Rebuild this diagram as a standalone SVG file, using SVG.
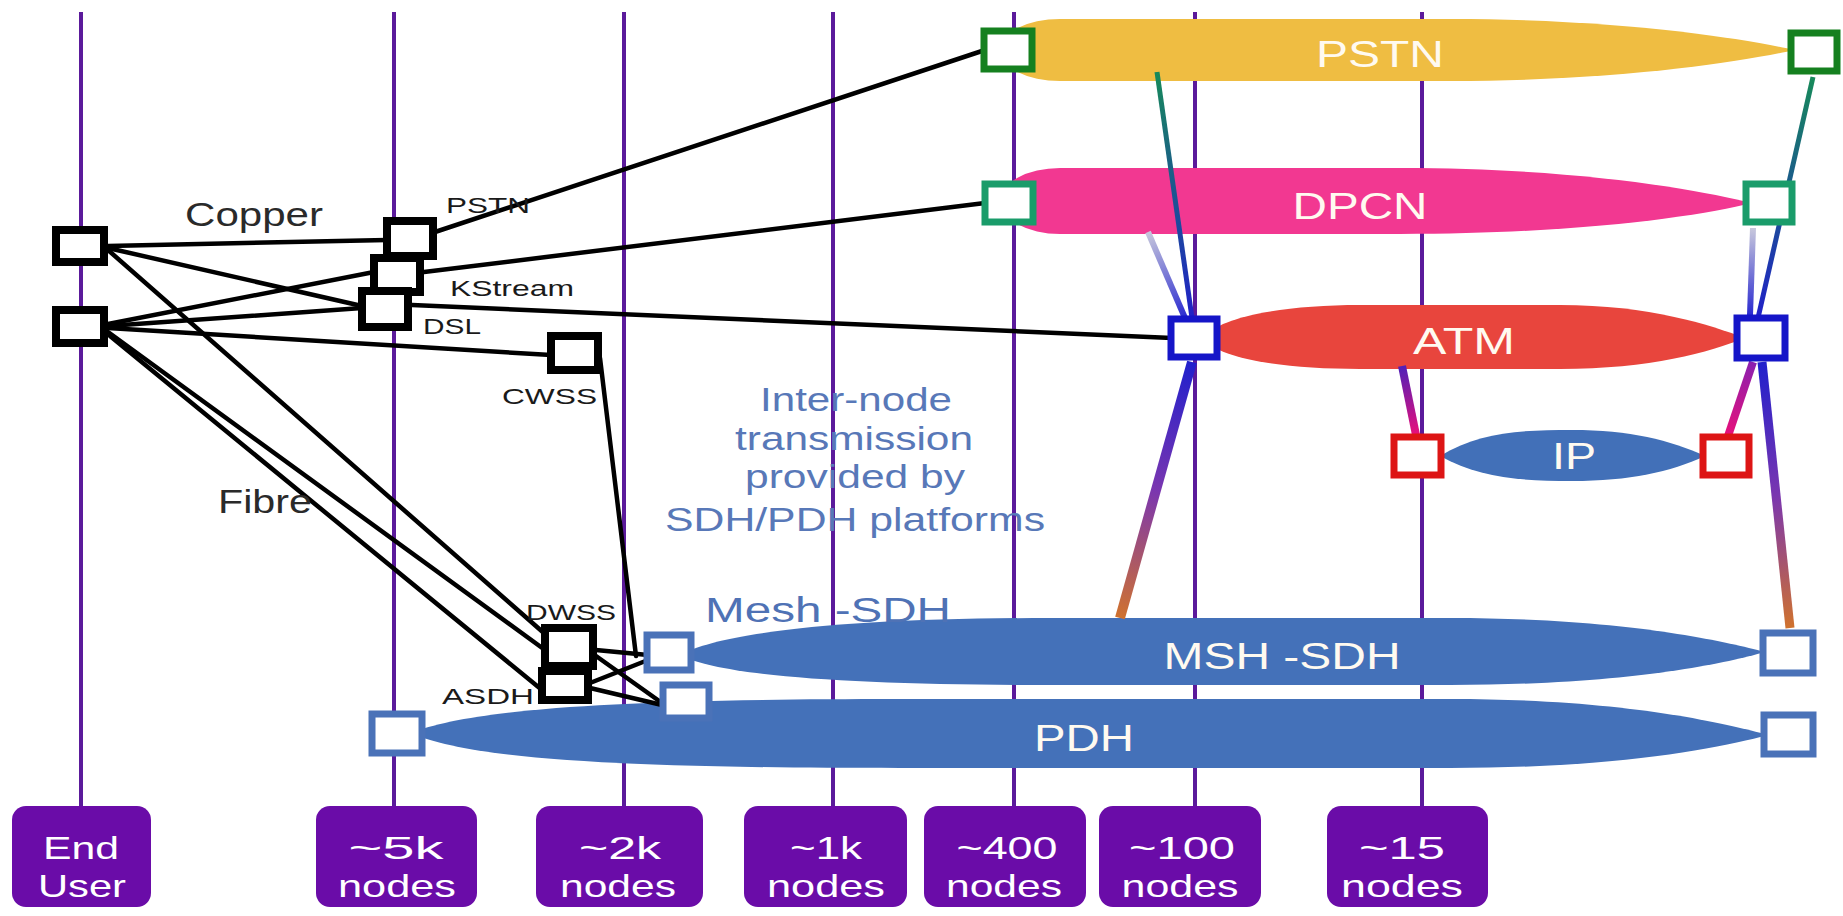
<svg xmlns="http://www.w3.org/2000/svg" width="1843" height="916" viewBox="0 0 1843 916">
<style>
.vl{stroke:#5b1a9b;stroke-width:4;fill:none}
.lab{fill:#6a0ca8}
.labt{font-family:"Liberation Sans",Arial,sans-serif;font-size:32px;fill:#ffffff;text-anchor:middle}
.bk{fill:#ffffff;stroke:#000;stroke-width:8}
.cn{stroke:#000;stroke-width:4.5;fill:none;stroke-linecap:round}
.sm{font-family:"Liberation Sans",Arial,sans-serif;font-size:22px;fill:#1a1a1a}
.big{font-family:"Liberation Sans",Arial,sans-serif;font-size:33px;fill:#2a2a2a}
.blt{font-family:"Liberation Sans",Arial,sans-serif;font-size:33px;fill:#5878b8;text-anchor:middle}
.bt{font-family:"Liberation Sans",Arial,sans-serif;font-size:36px;fill:#fffaf0;text-anchor:middle}
.bx{fill:#ffffff;stroke-width:7}
</style>
<defs>
<linearGradient id="gL1" gradientUnits="userSpaceOnUse" x1="1157" y1="72" x2="1192" y2="318"><stop offset="0" stop-color="#178a5a"/><stop offset="1" stop-color="#2020c8"/></linearGradient>
<linearGradient id="gL2" gradientUnits="userSpaceOnUse" x1="1148" y1="232" x2="1185" y2="318"><stop offset="0" stop-color="#c8c8dc"/><stop offset="1" stop-color="#2a2ad0"/></linearGradient>
<linearGradient id="gL3" gradientUnits="userSpaceOnUse" x1="1192" y1="362" x2="1120" y2="618"><stop offset="0" stop-color="#2020cc"/><stop offset="0.5" stop-color="#7a36b0"/><stop offset="1" stop-color="#d0722e"/></linearGradient>
<linearGradient id="gL4" gradientUnits="userSpaceOnUse" x1="1402" y1="366" x2="1416" y2="435"><stop offset="0" stop-color="#5020b8"/><stop offset="1" stop-color="#e8107a"/></linearGradient>
<linearGradient id="gR1" gradientUnits="userSpaceOnUse" x1="1813" y1="77" x2="1758" y2="318"><stop offset="0" stop-color="#178a5a"/><stop offset="1" stop-color="#2020c8"/></linearGradient>
<linearGradient id="gR2" gradientUnits="userSpaceOnUse" x1="1753" y1="228" x2="1750" y2="315"><stop offset="0" stop-color="#c8c8dc"/><stop offset="1" stop-color="#2a2ad0"/></linearGradient>
<linearGradient id="gR3" gradientUnits="userSpaceOnUse" x1="1753" y1="362" x2="1728" y2="436"><stop offset="0" stop-color="#8a20b0"/><stop offset="1" stop-color="#e8107a"/></linearGradient>
<linearGradient id="gR4" gradientUnits="userSpaceOnUse" x1="1762" y1="362" x2="1790" y2="628"><stop offset="0" stop-color="#2020cc"/><stop offset="0.5" stop-color="#7a36b0"/><stop offset="1" stop-color="#d0722e"/></linearGradient>
</defs>
<rect width="1843" height="916" fill="#ffffff"/>

<g id="levels">
<line class="vl" x1="81" y1="12" x2="81" y2="808"/>
<line class="vl" x1="394" y1="12" x2="394" y2="808"/>
<line class="vl" x1="624" y1="12" x2="624" y2="808"/>
<line class="vl" x1="833" y1="12" x2="833" y2="808"/>
<line class="vl" x1="1014" y1="12" x2="1014" y2="808"/>
<line class="vl" x1="1195" y1="12" x2="1195" y2="808"/>
<line class="vl" x1="1422" y1="12" x2="1422" y2="808"/>
</g>

<g id="level-labels">
<g id="lbl-enduser"><rect class="lab" x="12" y="806" width="139" height="101" rx="14"/><text class="labt" x="81" y="859" textLength="76" lengthAdjust="spacingAndGlyphs">End</text><text class="labt" x="82" y="897" textLength="88" lengthAdjust="spacingAndGlyphs">User</text></g>
<g id="lbl-5k"><rect class="lab" x="316" y="806" width="161" height="101" rx="14"/><text class="labt" x="396" y="859" textLength="95" lengthAdjust="spacingAndGlyphs">~5k</text><text class="labt" x="397" y="897" textLength="118" lengthAdjust="spacingAndGlyphs">nodes</text></g>
<g id="lbl-2k"><rect class="lab" x="536" y="806" width="167" height="101" rx="14"/><text class="labt" x="620" y="859" textLength="82" lengthAdjust="spacingAndGlyphs">~2k</text><text class="labt" x="618" y="897" textLength="116" lengthAdjust="spacingAndGlyphs">nodes</text></g>
<g id="lbl-1k"><rect class="lab" x="744" y="806" width="163" height="101" rx="14"/><text class="labt" x="826" y="859" textLength="72" lengthAdjust="spacingAndGlyphs">~1k</text><text class="labt" x="826" y="897" textLength="118" lengthAdjust="spacingAndGlyphs">nodes</text></g>
<g id="lbl-400"><rect class="lab" x="924" y="806" width="162" height="101" rx="14"/><text class="labt" x="1007" y="859" textLength="101" lengthAdjust="spacingAndGlyphs">~400</text><text class="labt" x="1004" y="897" textLength="116" lengthAdjust="spacingAndGlyphs">nodes</text></g>
<g id="lbl-100"><rect class="lab" x="1099" y="806" width="162" height="101" rx="14"/><text class="labt" x="1182" y="859" textLength="106" lengthAdjust="spacingAndGlyphs">~100</text><text class="labt" x="1180" y="897" textLength="117" lengthAdjust="spacingAndGlyphs">nodes</text></g>
<g id="lbl-15"><rect class="lab" x="1327" y="806" width="161" height="101" rx="14"/><text class="labt" x="1402" y="859" textLength="86" lengthAdjust="spacingAndGlyphs">~15</text><text class="labt" x="1402" y="897" textLength="122" lengthAdjust="spacingAndGlyphs">nodes</text></g>
</g>

<g id="bands">
<g id="band-pstn"><path d="M1000,50 A60 31 0 0 1 1060,19 L1450,19 C1620,19 1740,38 1795,50 C1740,62 1620,81 1450,81 L1060,81 A60 31 0 0 1 1000,50 Z" fill="#efbd42"/><text class="bt" x="1380" y="67" textLength="128" lengthAdjust="spacingAndGlyphs">PSTN</text></g>
<g id="band-dpcn"><path d="M1000,201 A60 33 0 0 1 1060,168 L1400,168 C1580,168 1700,190 1752,203 C1700,216 1580,234 1400,234 L1060,234 A60 33 0 0 1 1000,201 Z" fill="#f23891"/><text class="bt" x="1360" y="219" textLength="135" lengthAdjust="spacingAndGlyphs">DPCN</text></g>
<g id="band-atm"><path d="M1205,338 C1215,318 1280,305 1360,305 L1560,305 C1650,305 1710,325 1745,338 C1710,352 1650,369 1560,369 L1360,369 C1280,369 1215,358 1205,338 Z" fill="#e8453d"/><text class="bt" x="1464" y="354" textLength="102" lengthAdjust="spacingAndGlyphs">ATM</text></g>
<g id="band-ip"><path d="M1440,456 C1480,432 1520,430 1572,430 C1630,430 1670,440 1705,456 C1670,472 1630,481 1572,481 C1520,481 1480,478 1440,456 Z" fill="#4270b8"/><text class="bt" x="1574" y="469" textLength="44" lengthAdjust="spacingAndGlyphs">IP</text></g>
<g id="band-msh"><path d="M680,655 C720,632 850,618 1050,618 L1450,618 C1620,618 1720,640 1765,652 C1720,665 1620,685 1450,685 L1050,685 C850,685 720,676 680,655 Z" fill="#4471b9"/><text class="bt" x="1282" y="669" textLength="237" lengthAdjust="spacingAndGlyphs">MSH -SDH</text></g>
<g id="band-pdh"><path d="M410,733 C470,710 600,699 900,699 L1450,699 C1620,699 1720,722 1768,735 C1720,748 1620,768 1450,768 L900,768 C600,768 470,758 410,733 Z" fill="#4471b9"/><text class="bt" x="1084" y="751" textLength="100" lengthAdjust="spacingAndGlyphs">PDH</text></g>
</g>

<g id="connectors">
<line class="cn" x1="108" y1="246" x2="387" y2="240"/>
<line class="cn" x1="108" y1="248" x2="362" y2="306"/>
<line class="cn" x1="108" y1="250" x2="545" y2="634"/>
<line class="cn" x1="108" y1="324" x2="374" y2="272"/>
<line class="cn" x1="108" y1="326" x2="362" y2="308"/>
<line class="cn" x1="108" y1="328" x2="551" y2="355"/>
<line class="cn" x1="108" y1="332" x2="545" y2="650"/>
<line class="cn" x1="110" y1="336" x2="542" y2="690"/>
<line class="cn" x1="435" y1="232" x2="985" y2="50"/>
<line class="cn" x1="424" y1="272" x2="985" y2="203"/>
<line class="cn" x1="412" y1="305" x2="1172" y2="338"/>
<line class="cn" x1="600" y1="358" x2="636" y2="656"/>
<line class="cn" x1="596" y1="650" x2="648" y2="655"/>
<line class="cn" x1="596" y1="656" x2="662" y2="703"/>
<line class="cn" x1="590" y1="683" x2="648" y2="660"/>
<line class="cn" x1="590" y1="688" x2="662" y2="705"/>
<line x1="1157" y1="72" x2="1192" y2="318" stroke="url(#gL1)" stroke-width="5"/>
<line x1="1148" y1="232" x2="1185" y2="318" stroke="url(#gL2)" stroke-width="6"/>
<line x1="1192" y1="362" x2="1120" y2="618" stroke="url(#gL3)" stroke-width="10"/>
<line x1="1402" y1="366" x2="1416" y2="435" stroke="url(#gL4)" stroke-width="8"/>
<line x1="1813" y1="77" x2="1758" y2="318" stroke="url(#gR1)" stroke-width="5"/>
<line x1="1753" y1="228" x2="1750" y2="315" stroke="url(#gR2)" stroke-width="6"/>
<line x1="1753" y1="362" x2="1728" y2="436" stroke="url(#gR3)" stroke-width="8"/>
<line x1="1762" y1="362" x2="1790" y2="628" stroke="url(#gR4)" stroke-width="9"/>
</g>

<g id="nodes">
<g id="eu-top"><rect class="bk" x="56" y="230" width="48" height="32"/></g>
<g id="eu-bottom"><rect class="bk" x="56" y="310" width="48" height="33"/></g>
<g id="n-pstn5k"><rect class="bk" x="387" y="221" width="46" height="35"/><text class="sm" x="446" y="213" textLength="84" lengthAdjust="spacingAndGlyphs">PSTN</text></g>
<g id="n-kstream"><rect class="bk" x="374" y="258" width="46" height="34"/><text class="sm" x="450" y="296" textLength="124" lengthAdjust="spacingAndGlyphs">KStream</text></g>
<g id="n-dsl"><rect class="bk" x="362" y="291" width="46" height="36"/><text class="sm" x="423" y="334" textLength="58" lengthAdjust="spacingAndGlyphs">DSL</text></g>
<g id="n-cwss"><rect class="bk" x="551" y="336" width="47" height="34"/><text class="sm" x="502" y="404" textLength="95" lengthAdjust="spacingAndGlyphs">CWSS</text></g>
<g id="n-dwss"><rect class="bk" x="545" y="628" width="48" height="38"/><text class="sm" x="526" y="620" textLength="90" lengthAdjust="spacingAndGlyphs">DWSS</text></g>
<g id="n-asdh"><rect class="bk" x="542" y="671" width="46" height="29"/><text class="sm" x="442" y="704" textLength="92" lengthAdjust="spacingAndGlyphs">ASDH</text></g>
<g id="pstn-l"><rect class="bx" x="984" y="31" width="48" height="38" stroke="#15801f"/></g>
<g id="pstn-r"><rect class="bx" x="1791" y="33" width="46" height="38" stroke="#15801f"/></g>
<g id="dpcn-l"><rect class="bx" x="985" y="184" width="48" height="38" stroke="#1a9c6a"/></g>
<g id="dpcn-r"><rect class="bx" x="1746" y="184" width="46" height="38" stroke="#1a9c6a"/></g>
<g id="atm-l"><rect class="bx" x="1171" y="319" width="46" height="38" stroke="#1515c8"/></g>
<g id="atm-r"><rect class="bx" x="1737" y="318" width="48" height="40" stroke="#1515c8"/></g>
<g id="ip-l"><rect class="bx" x="1394" y="437" width="47" height="38" stroke="#dd1515"/></g>
<g id="ip-r"><rect class="bx" x="1703" y="437" width="46" height="38" stroke="#dd1515"/></g>
<g id="msh-l"><rect class="bx" x="647" y="635" width="44" height="35" stroke="#4a72b8"/></g>
<g id="msh-r"><rect class="bx" x="1763" y="633" width="50" height="40" stroke="#4a72b8"/></g>
<g id="pdh-l"><rect class="bx" x="372" y="714" width="50" height="39" stroke="#4a72b8"/></g>
<g id="pdh-2k"><rect class="bx" x="663" y="685" width="46" height="33" stroke="#4a72b8"/></g>
<g id="pdh-r"><rect class="bx" x="1764" y="715" width="49" height="39" stroke="#4a72b8"/></g>
</g>

<g id="annotations">
<text class="big" x="185" y="226" textLength="138" lengthAdjust="spacingAndGlyphs">Copper</text>
<text class="big" x="218" y="513" textLength="94" lengthAdjust="spacingAndGlyphs">Fibre</text>
<text class="blt" x="856" y="411" textLength="192" lengthAdjust="spacingAndGlyphs">Inter-node</text>
<text class="blt" x="854" y="450" textLength="238" lengthAdjust="spacingAndGlyphs">transmission</text>
<text class="blt" x="855" y="488" textLength="220" lengthAdjust="spacingAndGlyphs">provided by</text>
<text class="blt" x="855" y="531" textLength="380" lengthAdjust="spacingAndGlyphs">SDH/PDH platforms</text>
<text class="big" x="705" y="622" textLength="246" lengthAdjust="spacingAndGlyphs" style="fill:#4f72b5;font-size:35px">Mesh -SDH</text>
</g>
</svg>
